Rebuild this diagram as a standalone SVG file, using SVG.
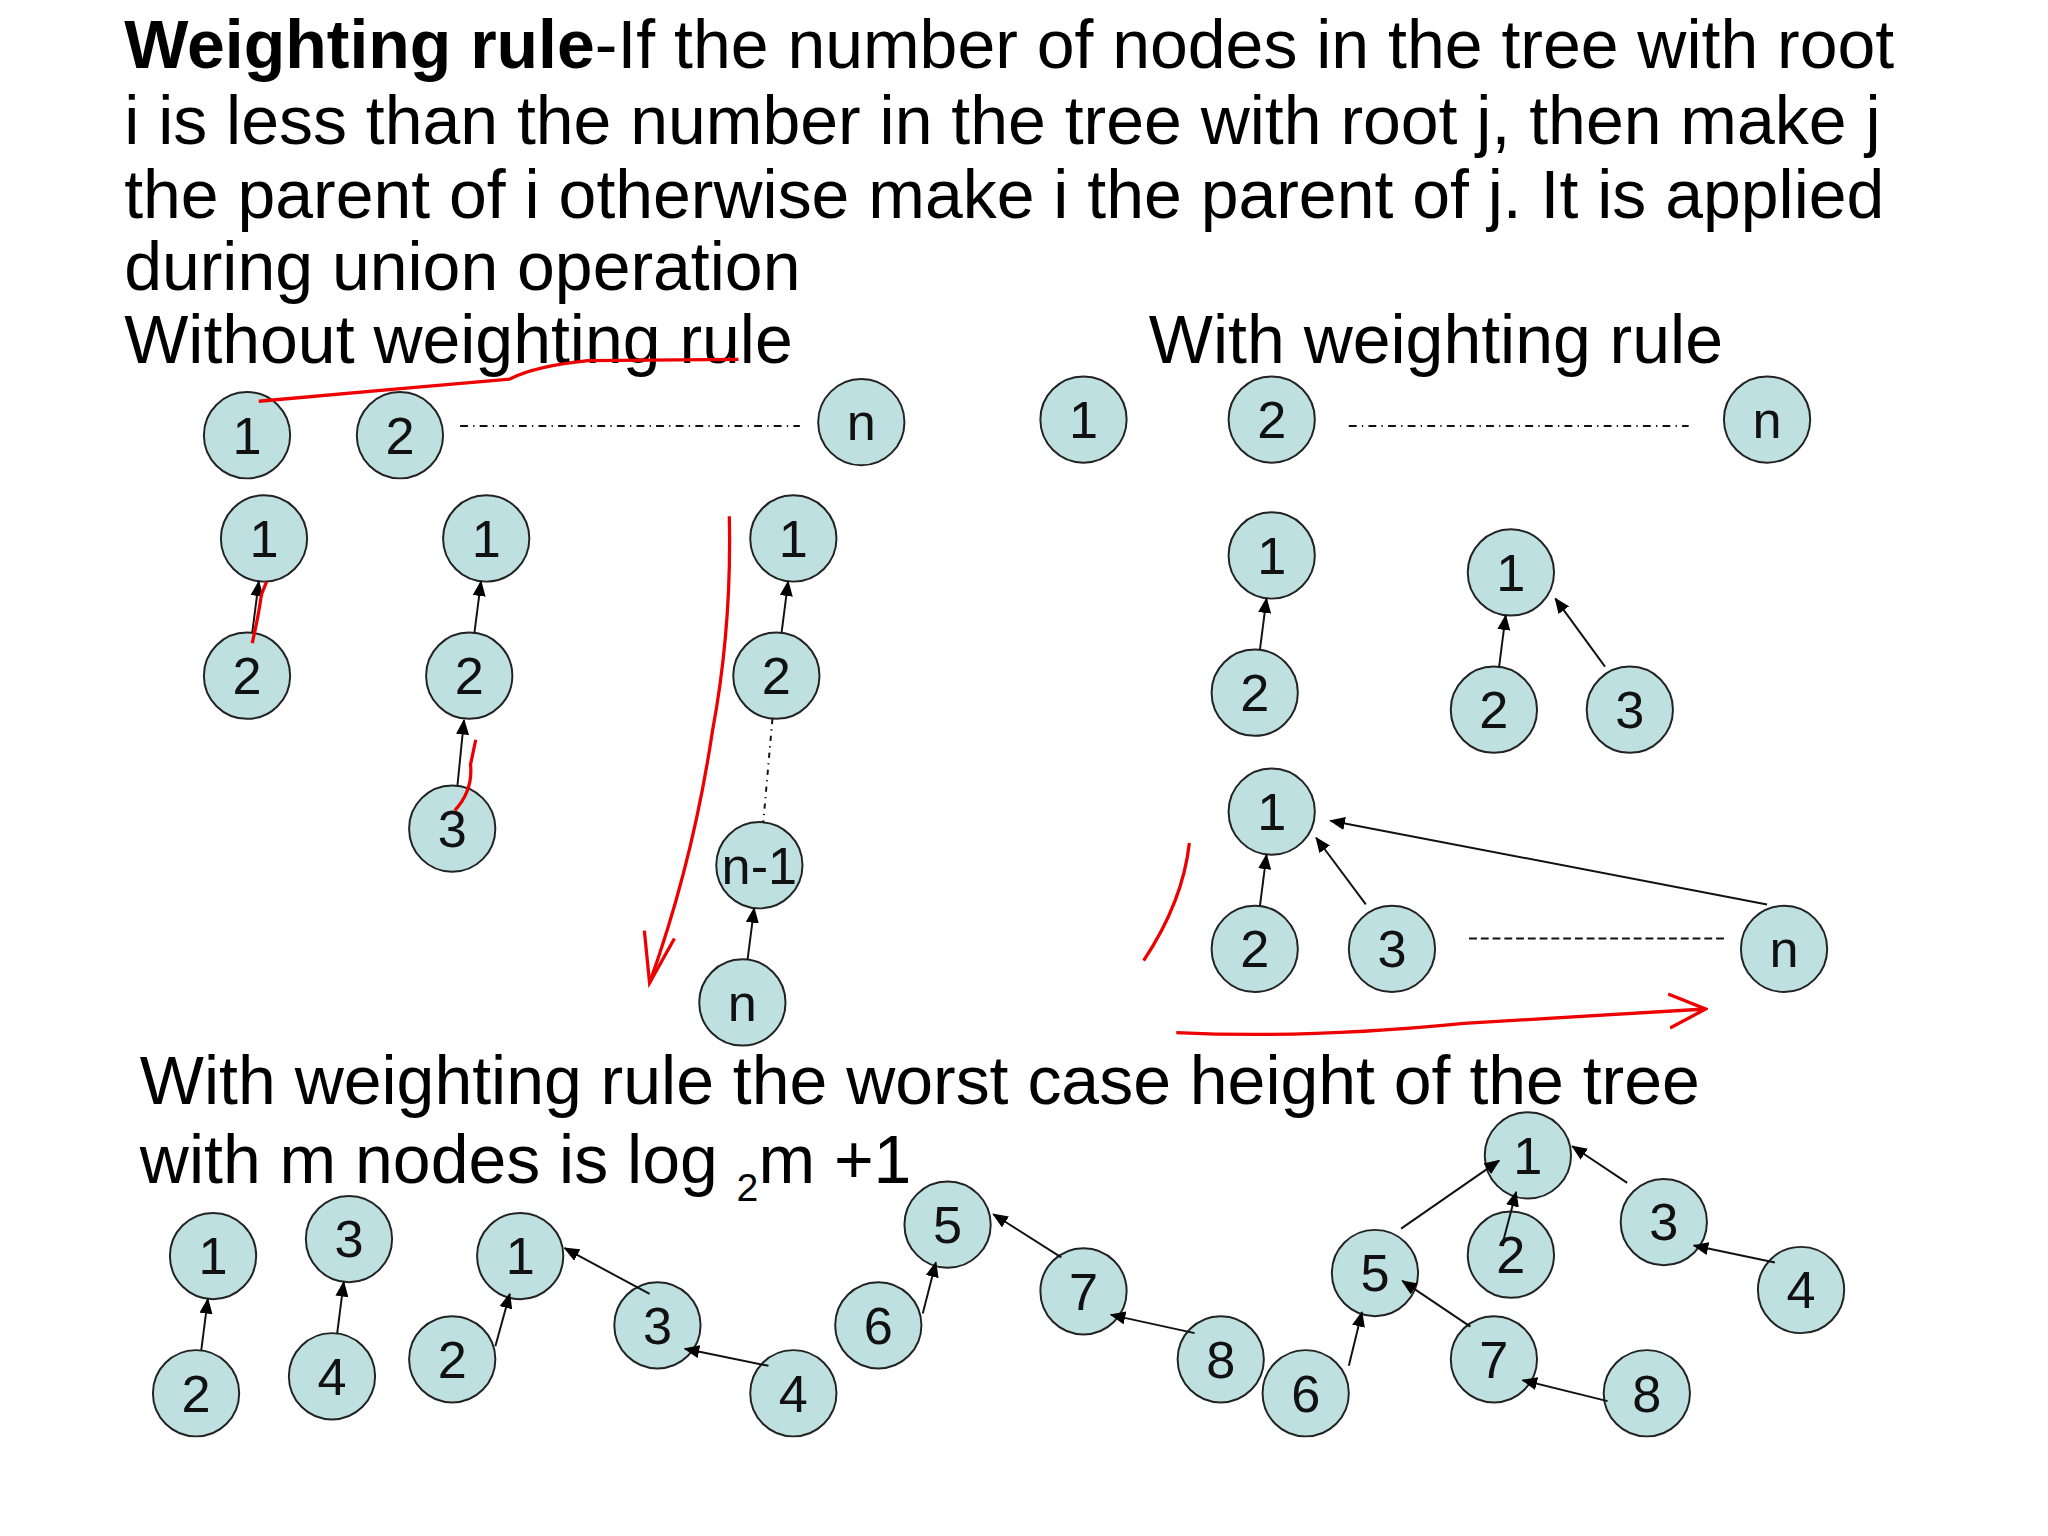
<svg xmlns="http://www.w3.org/2000/svg" width="2048" height="1536" viewBox="0 0 2048 1536">
<style>
.n circle{fill:#bfe0e0;stroke:#222;stroke-width:1.5}
.n text{font-family:"Liberation Sans",Arial,sans-serif;font-size:40px;text-anchor:middle;fill:#111}
.t{font-family:"Liberation Sans",Arial,sans-serif;font-size:52px;fill:#000}
.e{stroke:#111;stroke-width:1.5;fill:none}
.a{marker-end:url(#ah)}
.red{stroke:#e00;stroke-width:2.5;fill:none}
</style>
<defs>
<marker id="ah" markerWidth="12" markerHeight="10" refX="11" refY="5" orient="auto" markerUnits="userSpaceOnUse"><path d="M0,0 L12,5 L0,10 z" fill="#000"/></marker>
<marker id="rah" markerWidth="30" markerHeight="30" refX="28" refY="15" orient="auto" markerUnits="userSpaceOnUse"><path d="M0,2 L28,15 L0,28" fill="none" stroke="#e00" stroke-width="2.5"/></marker>
</defs>
<rect width="2048" height="1536" fill="#fff"/>
<g transform="scale(1.307)">
<g id="texts">
<text class="t" x="95" y="52"><tspan font-weight="bold">Weighting rule</tspan>-If the number of nodes in the tree with root</text>
<text class="t" x="95" y="110">i is less than the number in the tree with root j, then make j</text>
<text class="t" x="95" y="167">the parent of i otherwise make i the parent of j. It is applied</text>
<text class="t" x="95" y="222">during union operation</text>
<text class="t" x="95" y="278">Without weighting rule</text>
<text class="t" x="879" y="278">With weighting rule</text>
<text class="t" x="107" y="845">With weighting rule the worst case height of the tree</text>
<text class="t" x="107" y="905">with m nodes is  log <tspan font-size="30" dy="14">2</tspan><tspan dy="-14">m +1</tspan></text>
</g>
<g id="nodes">
<g class="n"><circle cx="189" cy="333" r="33"/><text x="189" y="347">1</text></g>
<g class="n"><circle cx="306" cy="333" r="33"/><text x="306" y="347">2</text></g>
<g class="n"><circle cx="659" cy="323" r="33"/><text x="659" y="337">n</text></g>
<g class="n"><circle cx="202" cy="412" r="33"/><text x="202" y="426">1</text></g>
<g class="n"><circle cx="189" cy="517" r="33"/><text x="189" y="531">2</text></g>
<g class="n"><circle cx="372" cy="412" r="33"/><text x="372" y="426">1</text></g>
<g class="n"><circle cx="359" cy="517" r="33"/><text x="359" y="531">2</text></g>
<g class="n"><circle cx="346" cy="634" r="33"/><text x="346" y="648">3</text></g>
<g class="n"><circle cx="607" cy="412" r="33"/><text x="607" y="426">1</text></g>
<g class="n"><circle cx="594" cy="517" r="33"/><text x="594" y="531">2</text></g>
<g class="n"><circle cx="581" cy="662" r="33"/><text x="581" y="676">n-1</text></g>
<g class="n"><circle cx="568" cy="767" r="33"/><text x="568" y="781">n</text></g>
<g class="n"><circle cx="829" cy="321" r="33"/><text x="829" y="335">1</text></g>
<g class="n"><circle cx="973" cy="321" r="33"/><text x="973" y="335">2</text></g>
<g class="n"><circle cx="1352" cy="321" r="33"/><text x="1352" y="335">n</text></g>
<g class="n"><circle cx="973" cy="425" r="33"/><text x="973" y="439">1</text></g>
<g class="n"><circle cx="960" cy="530" r="33"/><text x="960" y="544">2</text></g>
<g class="n"><circle cx="1156" cy="438" r="33"/><text x="1156" y="452">1</text></g>
<g class="n"><circle cx="1143" cy="543" r="33"/><text x="1143" y="557">2</text></g>
<g class="n"><circle cx="1247" cy="543" r="33"/><text x="1247" y="557">3</text></g>
<g class="n"><circle cx="973" cy="621" r="33"/><text x="973" y="635">1</text></g>
<g class="n"><circle cx="960" cy="726" r="33"/><text x="960" y="740">2</text></g>
<g class="n"><circle cx="1065" cy="726" r="33"/><text x="1065" y="740">3</text></g>
<g class="n"><circle cx="1365" cy="726" r="33"/><text x="1365" y="740">n</text></g>
<g class="n"><circle cx="163" cy="961" r="33"/><text x="163" y="975">1</text></g>
<g class="n"><circle cx="150" cy="1066" r="33"/><text x="150" y="1080">2</text></g>
<g class="n"><circle cx="267" cy="948" r="33"/><text x="267" y="962">3</text></g>
<g class="n"><circle cx="254" cy="1053" r="33"/><text x="254" y="1067">4</text></g>
<g class="n"><circle cx="398" cy="961" r="33"/><text x="398" y="975">1</text></g>
<g class="n"><circle cx="346" cy="1040" r="33"/><text x="346" y="1054">2</text></g>
<g class="n"><circle cx="503" cy="1014" r="33"/><text x="503" y="1028">3</text></g>
<g class="n"><circle cx="607" cy="1066" r="33"/><text x="607" y="1080">4</text></g>
<g class="n"><circle cx="725" cy="937" r="33"/><text x="725" y="951">5</text></g>
<g class="n"><circle cx="672" cy="1014" r="33"/><text x="672" y="1028">6</text></g>
<g class="n"><circle cx="829" cy="988" r="33"/><text x="829" y="1002">7</text></g>
<g class="n"><circle cx="934" cy="1040" r="33"/><text x="934" y="1054">8</text></g>
<g class="n"><circle cx="1169" cy="884" r="33"/><text x="1169" y="898">1</text></g>
<g class="n"><circle cx="1156" cy="960" r="33"/><text x="1156" y="974">2</text></g>
<g class="n"><circle cx="1273" cy="935" r="33"/><text x="1273" y="949">3</text></g>
<g class="n"><circle cx="1378" cy="987" r="33"/><text x="1378" y="1001">4</text></g>
<g class="n"><circle cx="1052" cy="974" r="33"/><text x="1052" y="988">5</text></g>
<g class="n"><circle cx="999" cy="1066" r="33"/><text x="999" y="1080">6</text></g>
<g class="n"><circle cx="1143" cy="1040" r="33"/><text x="1143" y="1054">7</text></g>
<g class="n"><circle cx="1260" cy="1066" r="33"/><text x="1260" y="1080">8</text></g>
</g>
<g id="connectors">
<line class="e" x1="352" y1="326" x2="612" y2="326" stroke-dasharray="6,4,1,4"/>
<line class="e" x1="1032" y1="326" x2="1292" y2="326" stroke-dasharray="6,4,1,4"/>
<line class="e" x1="1124" y1="718" x2="1320" y2="718" stroke-dasharray="6,3"/>
<line class="e" x1="591" y1="550" x2="584" y2="629" stroke-dasharray="4,4,1,4"/>
<line class="e a" x1="193" y1="484" x2="198" y2="445"/>
<line class="e a" x1="363" y1="484" x2="368" y2="445"/>
<line class="e a" x1="350" y1="601" x2="355" y2="551"/>
<line class="e a" x1="598" y1="484" x2="603" y2="445"/>
<line class="e a" x1="572" y1="734" x2="577" y2="695"/>
<line class="e a" x1="964" y1="497" x2="969" y2="458"/>
<line class="e a" x1="1147" y1="510" x2="1152" y2="471"/>
<line class="e a" x1="1228" y1="510" x2="1190" y2="458"/>
<line class="e a" x1="964" y1="693" x2="969" y2="654"/>
<line class="e a" x1="1045" y1="692" x2="1007" y2="641"/>
<line class="e a" x1="1352" y1="692" x2="1018" y2="628"/>
<line class="e a" x1="154" y1="1033" x2="159" y2="994"/>
<line class="e a" x1="258" y1="1020" x2="263" y2="981"/>
<line class="e a" x1="379" y1="1030" x2="390" y2="990"/>
<line class="e a" x1="497" y1="990" x2="432" y2="955"/>
<line class="e a" x1="588" y1="1045" x2="524" y2="1032"/>
<line class="e a" x1="706" y1="1005" x2="716" y2="966"/>
<line class="e a" x1="812" y1="962" x2="760" y2="929"/>
<line class="e a" x1="914" y1="1020" x2="850" y2="1006"/>
<line class="e a" x1="1072" y1="940" x2="1147" y2="888"/>
<line class="e a" x1="1150" y1="950" x2="1160" y2="912"/>
<line class="e a" x1="1245" y1="905" x2="1203" y2="877"/>
<line class="e a" x1="1358" y1="966" x2="1296" y2="953"/>
<line class="e a" x1="1032" y1="1045" x2="1042" y2="1004"/>
<line class="e a" x1="1125" y1="1015" x2="1073" y2="980"/>
<line class="e a" x1="1230" y1="1072" x2="1165" y2="1056"/>
</g>
<g id="annotations">
<path class="red" d="M198,307 L300,298 L390,290 Q410,280 450,276 L565,275"/>
<path class="red" d="M193,492 Q198,470 200,455 L204,445"/>
<path class="red" d="M348,620 Q362,605 360,585 L364,566"/>
<path class="red" d="M558,395 Q560,480 545,560 Q530,660 497,752"/>
<path class="red" d="M493,712 L497,752 L516,718"/>
<path class="red" d="M910,645 Q905,690 875,735"/>
<path class="red" d="M900,790 Q1000,795 1120,783 Q1200,778 1305,772" marker-end="url(#rah)"/>
</g>
</g>
</svg>
